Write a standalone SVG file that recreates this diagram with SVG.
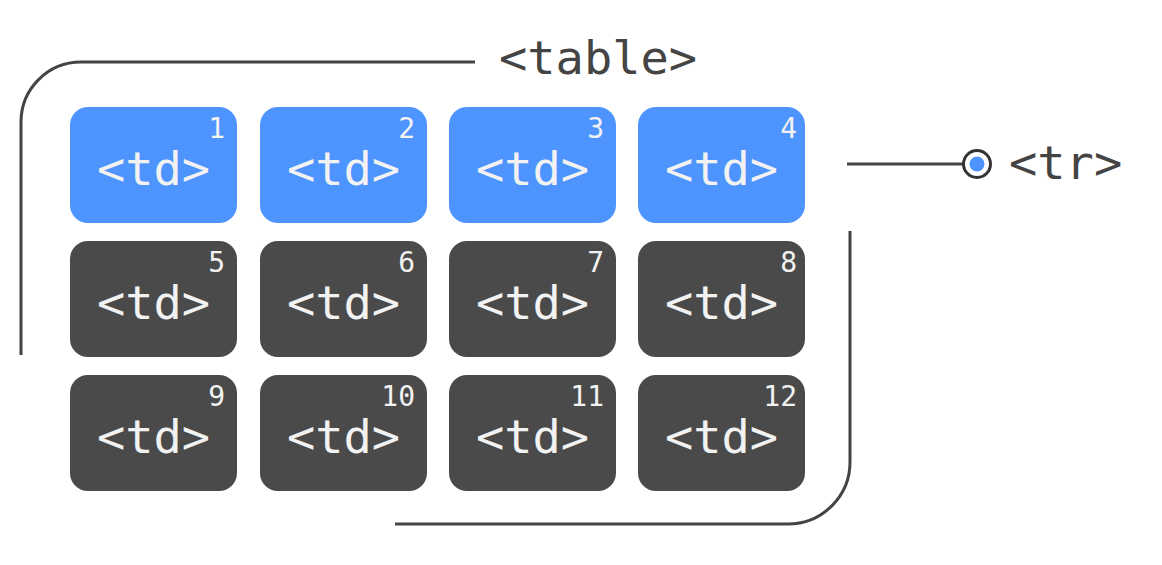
<svg xmlns="http://www.w3.org/2000/svg" width="1162" height="565" viewBox="0 0 1162 565">
<style>
.frame{fill:none;stroke:#444;stroke-width:3}
.blue{fill:#4d94ff}
.dark{fill:#4a4a4a}
.td{font-family:"DejaVu Sans Mono","Liberation Mono",monospace;font-size:47px;fill:#f2f2f2;text-anchor:middle}
.num{font-family:"DejaVu Sans Mono","Liberation Mono",monospace;font-size:28px;fill:#f2f2f2;text-anchor:end}
.lbl{font-family:"DejaVu Sans Mono","Liberation Mono",monospace;font-size:47px;fill:#444}
</style>
<rect width="1162" height="565" fill="#fff"/>
<g id="connectors">
<path class="frame" d="M21,355 V122 A60,60 0 0 1 81,62 H475"/>
<path class="frame" d="M850,231 V462 A62,62 0 0 1 788,524 H395"/>
<line class="frame" x1="847" y1="164" x2="963" y2="164"/>
<circle cx="977" cy="164" r="13.5" fill="#fff" stroke="#333" stroke-width="3"/>
<circle cx="977" cy="164" r="7.5" fill="#4d94ff"/>
</g>
<g id="label-table"><text class="lbl" x="499" y="74">&lt;table&gt;</text></g>
<g id="label-tr"><text class="lbl" x="1009" y="179">&lt;tr&gt;</text></g>
<g id="td1"><rect class="blue" x="70" y="107" width="167" height="116" rx="18"/><text class="td" x="153.5" y="185">&lt;td&gt;</text><text class="num" x="225" y="138">1</text></g>
<g id="td2"><rect class="blue" x="260" y="107" width="167" height="116" rx="18"/><text class="td" x="343.5" y="185">&lt;td&gt;</text><text class="num" x="415" y="138">2</text></g>
<g id="td3"><rect class="blue" x="449" y="107" width="167" height="116" rx="18"/><text class="td" x="532.5" y="185">&lt;td&gt;</text><text class="num" x="604" y="138">3</text></g>
<g id="td4"><rect class="blue" x="638" y="107" width="167" height="116" rx="18"/><text class="td" x="721.5" y="185">&lt;td&gt;</text><text class="num" x="797" y="138">4</text></g>
<g id="td5"><rect class="dark" x="70" y="241" width="167" height="116" rx="18"/><text class="td" x="153.5" y="319">&lt;td&gt;</text><text class="num" x="225" y="272">5</text></g>
<g id="td6"><rect class="dark" x="260" y="241" width="167" height="116" rx="18"/><text class="td" x="343.5" y="319">&lt;td&gt;</text><text class="num" x="415" y="272">6</text></g>
<g id="td7"><rect class="dark" x="449" y="241" width="167" height="116" rx="18"/><text class="td" x="532.5" y="319">&lt;td&gt;</text><text class="num" x="604" y="272">7</text></g>
<g id="td8"><rect class="dark" x="638" y="241" width="167" height="116" rx="18"/><text class="td" x="721.5" y="319">&lt;td&gt;</text><text class="num" x="797" y="272">8</text></g>
<g id="td9"><rect class="dark" x="70" y="375" width="167" height="116" rx="18"/><text class="td" x="153.5" y="453">&lt;td&gt;</text><text class="num" x="225" y="406">9</text></g>
<g id="td10"><rect class="dark" x="260" y="375" width="167" height="116" rx="18"/><text class="td" x="343.5" y="453">&lt;td&gt;</text><text class="num" x="415" y="406">10</text></g>
<g id="td11"><rect class="dark" x="449" y="375" width="167" height="116" rx="18"/><text class="td" x="532.5" y="453">&lt;td&gt;</text><text class="num" x="604" y="406">11</text></g>
<g id="td12"><rect class="dark" x="638" y="375" width="167" height="116" rx="18"/><text class="td" x="721.5" y="453">&lt;td&gt;</text><text class="num" x="797" y="406">12</text></g>
</svg>
